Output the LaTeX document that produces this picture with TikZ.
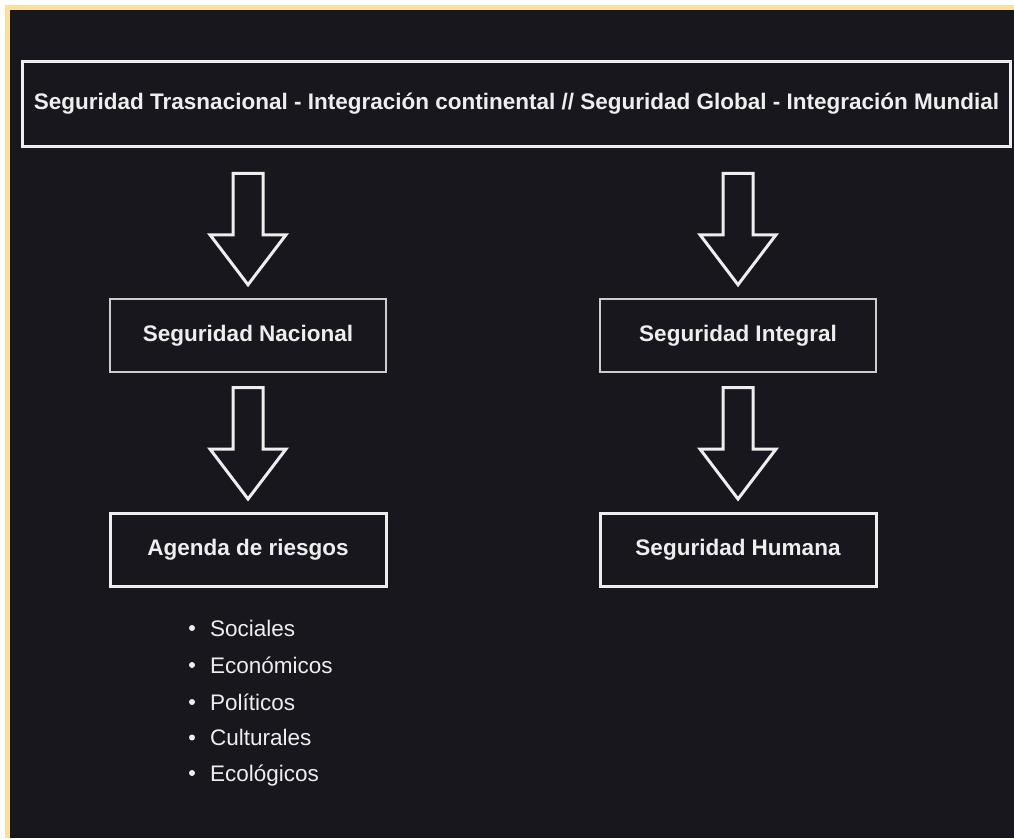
\documentclass[tikz,border=0pt]{standalone}
\usepackage{fontspec}
\setmainfont{Liberation Sans}
\usetikzlibrary{positioning,calc}

\definecolor{canvas}{HTML}{18171E}
\definecolor{frameyellow}{HTML}{FFE08C}
\definecolor{inkwhite}{HTML}{EEEEEE}
\definecolor{inkgray}{HTML}{CDCDCD}

\tikzset{
  stage/.style={draw=inkwhite, line width=3pt, text=inkwhite,
    minimum width=276pt, minimum height=73pt,
    font=\bfseries\fontsize{22.5}{27}\selectfont},
  stagegray/.style={stage, draw=inkgray, line width=2.5pt},
  arrowline/.style={draw=inkwhite, line width=3pt, line join=miter},
  riskitem/.style={anchor=base west, inner sep=0pt, text=inkwhite,
    font=\fontsize{22.5}{27}\selectfont}
}

% block arrow ending just above the named box
\newcommand{\blockarrow}[1]{%
  \draw[arrowline] ($(#1.north)+(-15,-124.5)$) -- ($(#1.north)+(-15,-63)$)
    -- ($(#1.north)+(-38,-63)$) -- ($(#1.north)+(0,-13)$)
    -- ($(#1.north)+(38,-63)$) -- ($(#1.north)+(15,-63)$)
    -- ($(#1.north)+(15,-124.5)$) -- cycle;}

\begin{document}
\begin{tikzpicture}[x=1pt,y=-1pt]
\useasboundingbox (0,0) rectangle (1014,838);
\fill[white] (0,0) rectangle (1014,838);
\fill[frameyellow] (5,5) rectangle (1014,838);
\fill[canvas] (10,10) rectangle (1014,838);

\node[stage, minimum width=988pt, minimum height=85pt] (global) at (516.5,104)
  {Seguridad Trasnacional - Integración continental // Seguridad Global - Integración Mundial};

\node[stagegray] (nacional) at (248,335.5) {Seguridad Nacional};
\node[stagegray] (integral) at (738,335.5) {Seguridad Integral};
\node[stage] (agenda) at (248,550) {Agenda de riesgos};
\node[stage] (humana) at (738,550) {Seguridad Humana};

\blockarrow{nacional}
\blockarrow{integral}
\blockarrow{agenda}
\blockarrow{humana}

% list of risks
\foreach \name/\y [count=\i] in {Sociales/628,Económicos/665,Políticos/702,Culturales/737.5,Ecológicos/773}{
  \fill[inkwhite] (192,\y) circle (3);
  \node[riskitem] (risk\i) at (210,\y+8) {\name};
}
\end{tikzpicture}
\end{document}
